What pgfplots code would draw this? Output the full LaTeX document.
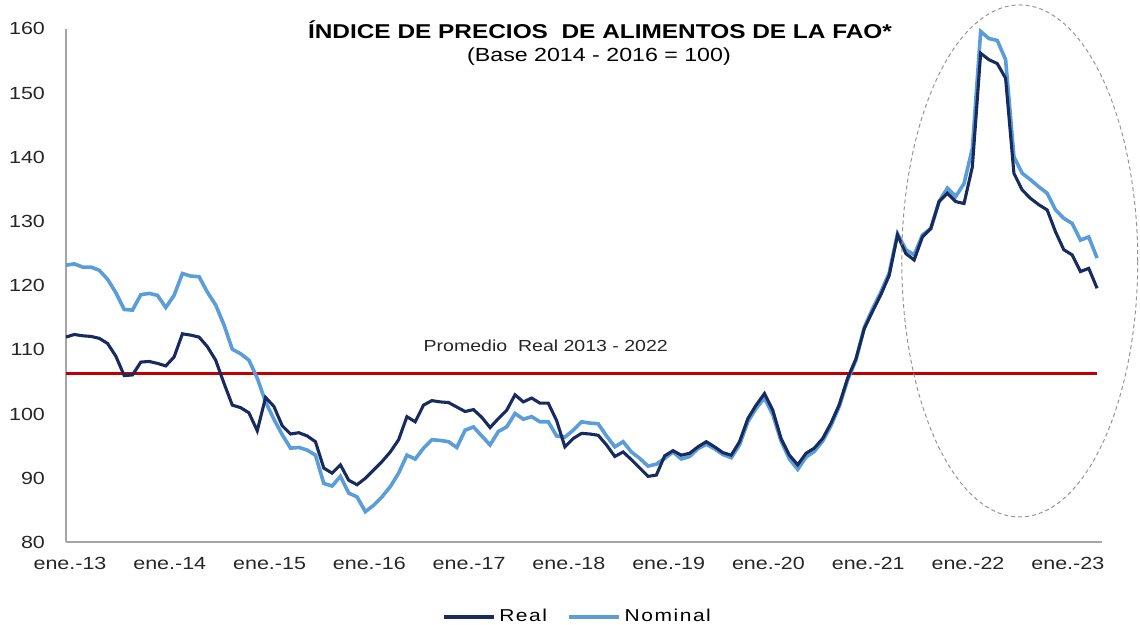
\documentclass[border=0pt]{standalone}
\usepackage{fontspec}
\setmainfont{Liberation Sans}[FakeStretch=1.22]
\usepackage{pgfplots}
\pgfplotsset{compat=1.18}
\usepackage{pgfplotstable}
\definecolor{realc}{RGB}{23,43,94}
\definecolor{nomc}{RGB}{91,157,217}
\definecolor{redl}{RGB}{192,0,0}
\definecolor{axgray}{RGB}{165,165,165}
\definecolor{ellgray}{RGB}{150,150,150}

\pgfplotstableread{
i real nom
0 112.0 123.2
1 112.4 123.4
2 112.2 122.9
3 112.1 122.9
4 111.8 122.4
5 111.0 121.0
6 109.0 118.9
7 106.0 116.3
8 106.1 116.2
9 108.1 118.6
10 108.2 118.8
11 107.9 118.5
12 107.5 116.6
13 108.9 118.5
14 112.5 121.9
15 112.3 121.5
16 112.0 121.4
17 110.5 119.0
18 108.4 117.0
19 104.8 113.9
20 101.4 110.1
21 101.0 109.4
22 100.2 108.4
23 97.4 105.6
24 102.6 101.9
25 101.2 99.2
26 98.2 96.8
27 96.9 94.7
28 97.1 94.8
29 96.6 94.4
30 95.7 93.6
31 91.6 89.2
32 90.8 88.8
33 92.1 90.3
34 89.7 87.7
35 89.0 87.1
36 90.0 84.8
37 91.3 85.8
38 92.6 87.1
39 94.1 88.7
40 96.0 90.8
41 99.6 93.6
42 98.8 93.0
43 101.4 94.7
44 102.1 96.0
45 101.9 95.9
46 101.8 95.7
47 101.1 94.8
48 100.4 97.5
49 100.7 98.0
50 99.5 96.6
51 97.9 95.2
52 99.3 97.3
53 100.6 98.0
54 103.0 100.1
55 101.9 99.2
56 102.5 99.6
57 101.7 98.8
58 101.7 98.8
59 99.0 96.6
60 94.9 96.4
61 96.2 97.5
62 97.0 98.8
63 96.9 98.6
64 96.7 98.5
65 95.2 96.6
66 93.4 94.9
67 94.1 95.7
68 92.9 94.1
69 91.6 93.1
70 90.3 91.9
71 90.5 92.2
72 93.5 93.1
73 94.3 94.1
74 93.6 93.0
75 93.9 93.4
76 94.9 94.6
77 95.7 95.3
78 94.9 94.6
79 94.0 93.7
80 93.6 93.2
81 95.7 95.2
82 99.3 98.8
83 101.4 100.9
84 103.2 102.5
85 100.6 99.9
86 96.2 95.8
87 93.6 93.0
88 92.1 91.4
89 93.9 93.3
90 94.7 94.2
91 96.2 95.8
92 98.6 98.2
93 101.5 101.2
94 105.6 105.3
95 108.6 108.4
96 113.3 113.5
97 116.0 116.4
98 118.6 119.0
99 121.6 122.0
100 127.9 128.1
101 125.0 125.6
102 124.0 124.8
103 127.6 127.9
104 128.9 128.9
105 133.1 133.1
106 134.4 135.2
107 133.1 133.9
108 132.8 135.9
109 138.5 141.4
110 156.2 159.6
111 155.2 158.5
112 154.6 158.2
113 152.3 155.2
114 137.5 140.1
115 134.9 137.5
116 133.6 136.5
117 132.6 135.4
118 131.8 134.4
119 128.4 131.8
120 125.6 130.5
121 124.8 129.7
122 122.2 127.1
123 122.7 127.6
124 119.6 124.3
}\datatable

\begin{document}
\begin{tikzpicture}
\useasboundingbox (-33pt,-41.25pt) rectangle (537pt,271.25pt);
\begin{axis}[
  at={(0pt,0pt)}, anchor=south west,
  x=4.1575pt, y=3.21pt,
  xmin=0, xmax=124.6, ymin=80, ymax=160,
  axis x line*=bottom, axis y line*=left,
  axis line style={axgray, line width=1pt},
  xtick={0,12,24,36,48,60,72,84,96,108,120},
  xticklabels={ene.-13,ene.-14,ene.-15,ene.-16,ene.-17,ene.-18,ene.-19,ene.-20,ene.-21,ene.-22,ene.-23},
  ytick={80,90,100,110,120,130,140,150,160},
  yticklabels={80,90,100,110,120,130,140,150,160},
  major tick length=0pt,
  tick style={draw=none},
  xticklabel style={font=\fontsize{8.8}{10}\selectfont, yshift=-4pt, xshift=2pt, text=black!85},
  yticklabel style={font=\fontsize{8.8}{10}\selectfont, xshift=-7pt, text=black!85},
  clip=false,
  reverse legend,
  legend columns=2,
  legend style={at={(0.4947,-0.145)}, anchor=center, draw=none, fill=none,
    font=\fontsize{8.6}{10}\selectfont\addfontfeature{LetterSpace=9},
    /tikz/every even column/.append style={column sep=8pt}},
  legend image code/.code={\draw[#1] (0pt,0pt) -- (25pt,0pt);},
]
\addplot[redl, line width=1.5pt, forget plot] coordinates {(0,106.4) (124,106.4)};
\addplot[nomc, line width=1.8pt] table[x=i, y=nom] {\datatable};
\addlegendentry{Nominal}
\addplot[realc, line width=1.55pt] table[x=i, y=real] {\datatable};
\addlegendentry{Real}
\node[anchor=base, font=\fontsize{8}{10}\selectfont, text=black!85] at (axis cs:57.7,109.7) {Promedio\ \ Real 2013 - 2022};
\draw[ellgray, line width=0.5pt, dash pattern=on 2pt off 1.5pt] (axis cs:114.7,123.85) ellipse [x radius=59pt, y radius=128pt];
\end{axis}
\node[anchor=base, font=\bfseries\fontsize{10}{12}\selectfont] at (267pt,251.75pt) {ÍNDICE DE PRECIOS\ \ DE ALIMENTOS DE LA FAO*};
\node[anchor=base, font=\fontsize{9.5}{11}\selectfont] at (266.5pt,240.4pt) {(Base 2014 - 2016 = 100)};
\end{tikzpicture}
\end{document}
